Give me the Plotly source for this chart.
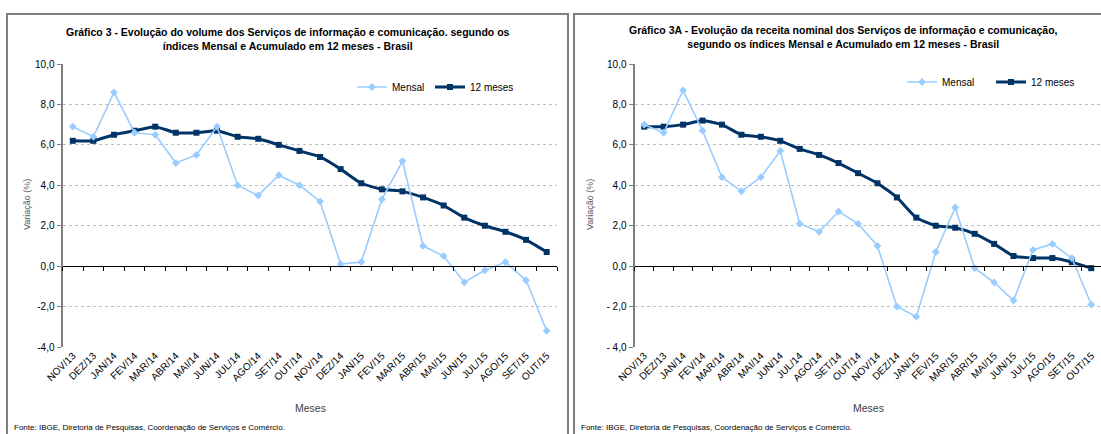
import plotly.graph_objects as go

# ---------------- data ----------------
months = ["NOV/13", "DEZ/13", "JAN/14", "FEV/14", "MAR/14", "ABR/14", "MAI/14", "JUN/14",
          "JUL/14", "AGO/14", "SET/14", "OUT/14", "NOV/14", "DEZ/14", "JAN/15", "FEV/15",
          "MAR/15", "ABR/15", "MAI/15", "JUN/15", "JUL/15", "AGO/15", "SET/15", "OUT/15"]

vol_mensal = [6.9, 6.4, 8.6, 6.6, 6.5, 5.1, 5.5, 6.9, 4.0, 3.5, 4.5, 4.0,
              3.2, 0.1, 0.2, 3.3, 5.2, 1.0, 0.5, -0.8, -0.2, 0.2, -0.7, -3.2]
vol_12m = [6.2, 6.2, 6.5, 6.7, 6.9, 6.6, 6.6, 6.7, 6.4, 6.3, 6.0, 5.7,
           5.4, 4.8, 4.1, 3.8, 3.7, 3.4, 3.0, 2.4, 2.0, 1.7, 1.3, 0.7]

rec_mensal = [7.0, 6.6, 8.7, 6.7, 4.4, 3.7, 4.4, 5.7, 2.1, 1.7, 2.7, 2.1,
              1.0, -2.0, -2.5, 0.7, 2.9, -0.1, -0.8, -1.7, 0.8, 1.1, 0.4, -1.9]
rec_12m = [6.9, 6.9, 7.0, 7.2, 7.0, 6.5, 6.4, 6.2, 5.8, 5.5, 5.1, 4.6,
           4.1, 3.4, 2.4, 2.0, 1.9, 1.6, 1.1, 0.5, 0.4, 0.4, 0.2, -0.1]

y_ticks = [10, 8, 6, 4, 2, 0, -2, -4]
y_labels_left = ["10,0", "8,0", "6,0", "4,0", "2,0", "0,0", "-2,0", "-4,0"]
y_labels_right = ["10,0", "8,0", "6,0", "4,0", "2,0", "0,0", "- 2,0", "- 4,0"]

title_left = ("Gráfico 3 - Evolução do volume dos Serviços de informação e comunicação. segundo os<br>"
              "índices Mensal e Acumulado em 12 meses - Brasil")
title_right = ("Gráfico 3A - Evolução da receita nominal dos Serviços de informação e comunicação,<br>"
               "segundo os índices Mensal e Acumulado em 12 meses - Brasil")
source = "Fonte: IBGE, Diretoria de Pesquisas, Coordenação de Serviços e Comércio."

# ---------------- layout constants ----------------
W, H = 1101, 434
FONT = "Liberation Sans, Arial, sans-serif"
LIGHT = "#99CCFF"
DARK = "#003366"
GRID = "#BFBFBF"


def px(x):
    return x / W


def py(y):
    return 1 - y / H


YMIN, YMAX = -4, 10
y_dom = [py(347), py(64)]
left_dom = [px(62.5), px(557)]
right_dom = [px(634.5), px(1101)]
zero_pos = y_dom[0] + (0 - YMIN) / (YMAX - YMIN) * (y_dom[1] - y_dom[0])

idx = list(range(len(months)))
bounds = [i - 0.5 for i in range(len(months) + 1)]

fig = go.Figure()

panels = [
    dict(x="x", y="y", xz="x3", mens=vol_mensal, acc=vol_12m, lg=("legend", "legend2")),
    dict(x="x2", y="y2", xz="x4", mens=rec_mensal, acc=rec_12m, lg=("legend3", "legend4")),
]

for p in panels:
    fig.add_trace(go.Scatter(
        x=idx, y=p["mens"], name="Mensal", xaxis=p["xz"], yaxis=p["y"],
        mode="lines+markers", line=dict(color=LIGHT, width=1.6),
        marker=dict(symbol="diamond", size=6, color=LIGHT),
        legend=p["lg"][0], cliponaxis=False))
    fig.add_trace(go.Scatter(
        x=idx, y=p["acc"], name="12 meses", xaxis=p["x"], yaxis=p["y"],
        mode="lines+markers", line=dict(color=DARK, width=3, shape="spline", smoothing=0.5),
        marker=dict(symbol="square", size=6, color=DARK),
        legend=p["lg"][1], cliponaxis=False))

xa_common = dict(range=[-0.5, len(months) - 0.5], tickmode="array", tickvals=idx,
                 ticktext=months, tickangle=-45, ticks="", showline=False, showgrid=False,
                 zeroline=False, tickfont=dict(family=FONT, size=10, color="#000000"),
                 fixedrange=True, automargin=False)
xz_common = dict(range=[-0.5, len(months) - 0.5], tickmode="array", tickvals=bounds,
                 showticklabels=False, ticks="outside", ticklen=4, tickcolor="#000000",
                 tickwidth=1, showline=True, linecolor="#000000", linewidth=1,
                 showgrid=False, zeroline=False, anchor="free", position=zero_pos,
                 automargin=False, fixedrange=True)


def ya(labels):
    return dict(domain=y_dom, range=[YMIN, YMAX], tickmode="array", tickvals=y_ticks,
                ticktext=labels, showgrid=True, gridcolor=GRID, griddash="dot", gridwidth=1,
                zeroline=False, showline=True, linecolor="#7F7F7F", linewidth=2,
                ticks="outside", ticklen=4, tickcolor="#7F7F7F", automargin=False,
                tickfont=dict(family=FONT, size=10, color="#000000"), fixedrange=True)


def leg(x_text, y_center):
    return dict(orientation="h", x=px(x_text - 40), y=py(y_center), xanchor="left",
                yanchor="middle", bgcolor="rgba(0,0,0,0)", font=dict(family=FONT, size=10),
                itemwidth=30, tracegroupgap=0)


fig.update_layout(
    template="none",
    width=W, height=H,
    margin=dict(l=0, r=0, t=0, b=0, autoexpand=False),
    paper_bgcolor="white", plot_bgcolor="white",
    font=dict(family=FONT, size=10, color="#000000"),
    xaxis=dict(domain=left_dom, anchor="y", **xa_common),
    xaxis2=dict(domain=right_dom, anchor="y2", **xa_common),
    xaxis3=dict(domain=left_dom, overlaying="x", **xz_common),
    xaxis4=dict(domain=right_dom, overlaying="x2", **xz_common),
    yaxis=dict(anchor="x", **ya(y_labels_left)),
    yaxis2=dict(anchor="x2", **ya(y_labels_right)),
    legend=leg(392, 87),
    legend2=leg(470, 87),
    legend3=leg(942, 82),
    legend4=leg(1031, 82),
    showlegend=True,
    hovermode=False,
)

# panel frames
fig.add_shape(type="rect", xref="paper", yref="paper", x0=px(7), x1=px(568),
              y0=py(440), y1=py(14), line=dict(color="#7F7F7F", width=2), layer="below")
fig.add_shape(type="rect", xref="paper", yref="paper", x0=px(574), x1=px(1112),
              y0=py(440), y1=py(14), line=dict(color="#7F7F7F", width=2), layer="below")

ann = []
ann.append(dict(text="<b>" + title_left + "</b>", x=px(288), y=py(39.5), xanchor="center",
                yanchor="middle", font=dict(family=FONT, size=10.5), align="center"))
ann.append(dict(text="<b>" + title_right + "</b>", x=px(843), y=py(37), xanchor="center",
                yanchor="middle", font=dict(family=FONT, size=10.5), align="center"))
for xc, xt in [(27, 310), (590, 868)]:
    ann.append(dict(text="Variação (%)", x=px(xc), y=py(205), textangle=-90,
                    xanchor="center", yanchor="middle",
                    font=dict(family=FONT, size=9, color="#595959")))
    ann.append(dict(text="Meses", x=px(xt), y=py(408), xanchor="center", yanchor="middle",
                    font=dict(family=FONT, size=10.5, color="#404040")))
for xs in [12, 579]:
    ann.append(dict(text=source, x=px(xs), y=py(427), xanchor="left", yanchor="middle",
                    font=dict(family=FONT, size=8, color="#000000")))
for a in ann:
    a.update(xref="paper", yref="paper", showarrow=False)
fig.update_layout(annotations=ann)

fig.write_html("out.html", config={"displayModeBar": False, "staticPlot": True},
               post_script="document.body.style.margin='0';document.body.style.overflow='hidden';")
